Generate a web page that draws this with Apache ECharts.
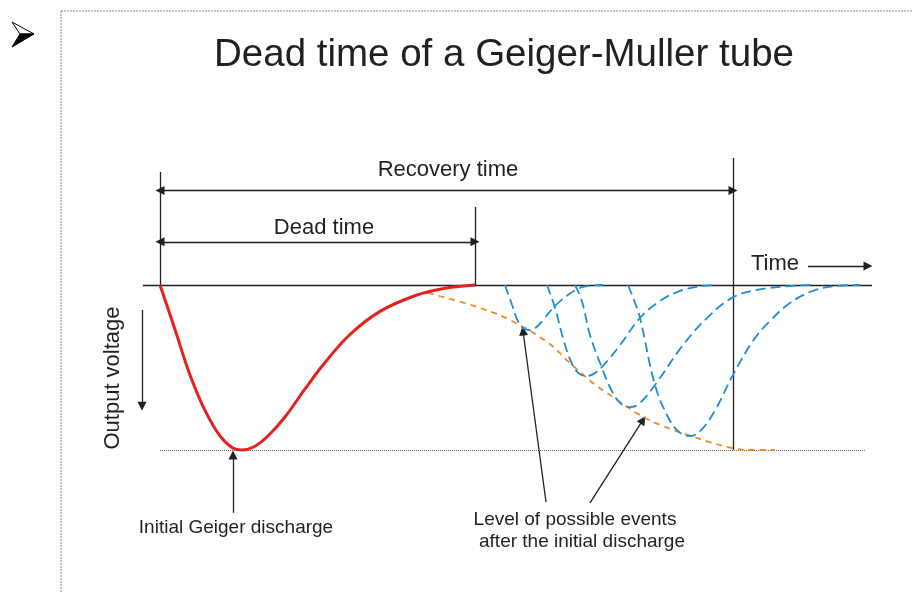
<!DOCTYPE html>
<html>
<head>
<meta charset="utf-8">
<script src="https://cdn.jsdelivr.net/npm/echarts@6/dist/echarts.min.js"></script>
<style>
    html, body { margin: 0; padding: 0; background: #fff; }
    #main { width: 912px; height: 592px; }
</style>
</head>
<body>
<div id="main"></div>
<script>
// time in arbitrary units (discharge starts at 0), output voltage scaled so the first discharge peak is -1
const initialDischarge = [
    [0, 0], [1.5, -0.27], [3, -0.545], [4.5, -0.76], [6, -0.915], [7.2, -0.985], [8.2, -1],
    [9.4, -0.98], [10.8, -0.915], [12.5, -0.8], [14.5, -0.63], [16.5, -0.47], [19, -0.3],
    [22, -0.16], [25.5, -0.065], [28.5, -0.02], [31.5, 0]
]
const possibleLevel = [
    [26.8, -0.048], [32, -0.139], [35, -0.212], [38.7, -0.345], [41, -0.473], [43.3, -0.594],
    [45.3, -0.679], [48, -0.788], [50, -0.848], [52.8, -0.909], [55, -0.952], [57.2, -0.988],
    [59, -1], [61.5, -1]
]
const event1 = [
    [34.5, 0], [35.2, -0.12], [35.8, -0.22], [36.4, -0.265], [37, -0.273], [37.6, -0.258],
    [38.4, -0.205], [39.5, -0.127], [40.8, -0.061], [42.3, -0.012], [44.3, 0]
]
const event2 = [
    [38.7, 0], [39.5, -0.139], [40.3, -0.321], [41, -0.45], [41.7, -0.525], [42.5, -0.552],
    [43.3, -0.54], [44.3, -0.49], [46, -0.364], [48, -0.2], [50, -0.097], [52, -0.036],
    [54, -0.008], [55.5, 0]
]
const event3 = [
    [41.5, 0], [42.2, -0.1], [43, -0.303], [44.2, -0.503], [45.2, -0.645], [46.1, -0.72],
    [47, -0.74], [47.9, -0.72], [49.5, -0.606], [52.3, -0.364], [55, -0.182], [57.3, -0.075],
    [59.7, -0.03], [63, -0.006], [65, 0]
]
const event4 = [
    [46.8, 0], [47.4, -0.091], [48, -0.2], [49.5, -0.606], [50.8, -0.8], [51.9, -0.89], [53, -0.915],
    [54.1, -0.88], [55.5, -0.76], [57.3, -0.545], [59.3, -0.339], [61, -0.218], [63, -0.109],
    [65.3, -0.036], [67.7, -0.006], [70, 0]
]

const deadTime = 31.5
const recoveryTime = 57.3

// straight guide lines [[t1, v1], [t2, v2]]
const baseline = [[-1.7, 0], [71.2, 0]]
const peakLevel = [[0, -1], [70.6, -1]]
const startTick = [[0, 0], [0, 0.685]]
const deadTick = [[deadTime, 0], [deadTime, 0.473]]
const recoveryTick = [[recoveryTime, -1], [recoveryTime, 0.77]]
const recoveryArrow = [[0, 0.572], [recoveryTime, 0.572]]
const deadArrow = [[0, 0.262], [deadTime, 0.262]]
const timeArrow = [[64.8, 0.115], [70.8, 0.115]]
const voltageArrow = [[-1.8, -0.152], [-1.8, -0.735]]
const dischargePointer = [[7.3, -1.38], [7.3, -1.03]]
const eventPointerA = [[38.6, -1.315], [36.3, -0.279]]
const eventPointerB = [[43, -1.321], [48.3, -0.818]]

const textColor = '#231f20'
const font = '"Liberation Sans", Arial, sans-serif'

const myChart = echarts.init(document.getElementById('main'))

function curve(data, color, width, type) {
    return {
        type: 'line',
        data: data,
        showSymbol: false,
        smooth: 0.4,
        silent: true,
        lineStyle: { color: color, width: width, type: type }
    }
}

function segs(list, symbol, color, width, type) {
    return {
        type: 'lines',
        coordinateSystem: 'cartesian2d',
        symbol: symbol,
        symbolSize: 9,
        silent: true,
        lineStyle: { color: color, width: width, type: type || 'solid', opacity: 1 },
        data: list.map(function (c) { return { coords: c } })
    }
}

function label(text, x, y, size, align, extra) {
    return Object.assign({
        type: 'text',
        x: x,
        y: y,
        style: {
            text: text,
            fill: textColor,
            font: size + 'px ' + font,
            textAlign: align || 'center',
            textVerticalAlign: 'middle'
        }
    }, extra || {})
}

const option = {
    animation: false,
    backgroundColor: '#fff',
    grid: { left: 60, right: 2, top: 153, bottom: 10 },
    xAxis: { type: 'value', min: -10, max: 75, show: false },
    yAxis: { type: 'value', min: -1.8, max: 0.8, show: false },
    graphic: [
        {
            type: 'rect',
            shape: { x: 61, y: 11, width: 900, height: 700 },
            style: { fill: 'none', stroke: '#8a8a8a', lineWidth: 1, lineDash: [2, 1] }
        },
        // slide bullet
        {
            type: 'polygon',
            shape: { points: [[12, 22], [34, 34], [20, 34]] },
            style: { fill: '#fff', stroke: '#000', lineWidth: 1 }
        },
        {
            type: 'polygon',
            shape: { points: [[20, 34], [34, 34], [12, 47]] },
            style: { fill: '#000', stroke: '#000', lineWidth: 1 }
        },
        label('Dead time of a Geiger-Muller tube', 504, 55, 38.5),
        label('Recovery time', 448, 170, 22),
        label('Dead time', 324, 228, 22),
        label('Time', 751, 264, 22, 'left'),
        label('Output voltage', 113, 378, 22, 'center', { rotation: Math.PI / 2 }),
        label('Initial Geiger discharge', 236, 528, 19),
        label('Level of possible events', 575, 520, 19),
        label('after the initial discharge', 582, 542, 19)
    ],
    series: [
        segs([peakLevel], ['none', 'none'], '#6d6d6d', 1, 'dotted'),
        segs([baseline, startTick, deadTick, recoveryTick], ['none', 'none'], '#231f20', 1.3),
        curve(possibleLevel, '#f0892a', 1.8, [6, 5]),
        curve(event1, '#1b8fd2', 1.8, [10, 5]),
        curve(event2, '#1b8fd2', 1.8, [10, 5]),
        curve(event3, '#1b8fd2', 1.8, [10, 5]),
        curve(event4, '#1b8fd2', 1.8, [10, 5]),
        curve(initialDischarge, '#e4211c', 3, 'solid'),
        segs([recoveryArrow, deadArrow], ['triangle', 'triangle'], '#231f20', 1.3),
        segs([timeArrow, voltageArrow, dischargePointer, eventPointerA, eventPointerB], ['none', 'triangle'], '#231f20', 1.3)
    ]
}
myChart.setOption(option)
</script>
</body>
</html>
